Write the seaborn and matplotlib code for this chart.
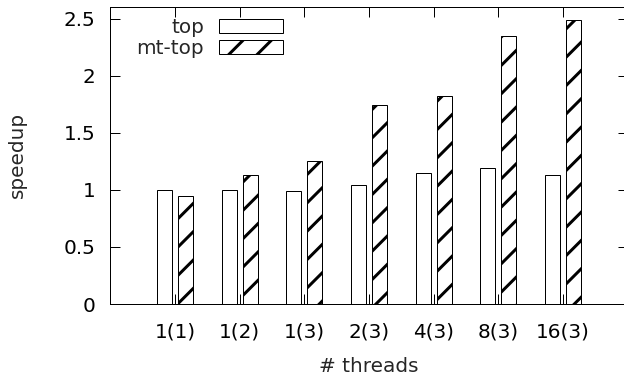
import matplotlib
matplotlib.use("Agg")
import matplotlib.pyplot as plt
from matplotlib.patches import Patch
import pandas as pd
import seaborn as sns

# Speedup per thread configuration
categories = ["1(1)", "1(2)", "1(3)", "2(3)", "4(3)", "8(3)", "16(3)"]
top_speedup = [1.00, 1.00, 0.99, 1.04, 1.15, 1.19, 1.13]
mt_top_speedup = [0.95, 1.13, 1.25, 1.74, 1.82, 2.35, 2.49]
series_names = ["top", "mt-top"]
y_ticks = [0, 0.5, 1, 1.5, 2, 2.5]
y_tick_labels = ["0", "0.5", "1", "1.5", "2", "2.5"]

DPI = 170
W, H = 624, 376


def px(v):
    """Convert pixels to points at the figure dpi."""
    return v * 72.0 / DPI


sns.set_theme(style="white")
plt.rcParams["font.family"] = ["DejaVu Sans"]
plt.rcParams["hatch.linewidth"] = px(3.0)
plt.rcParams["hatch.color"] = "black"

df = pd.DataFrame({
    "threads": categories * 2,
    "speedup": top_speedup + mt_top_speedup,
    "variant": [series_names[0]] * len(categories) + [series_names[1]] * len(categories),
})

fig = plt.figure(figsize=(W / DPI, H / DPI), dpi=DPI)
left, right, top, bottom = 110.3, 627.7, 7.3, 304.0
ax = fig.add_axes([left / W, 1 - bottom / H, (right - left) / W, (bottom - top) / H])

sns.barplot(
    data=df, x="threads", y="speedup", hue="variant",
    palette=["white", "white"], saturation=1,
    edgecolor="black", linewidth=px(1.0),
    width=0.65, gap=0.285, legend=False, ax=ax,
)

for bar in ax.containers[1]:
    bar.set_hatch("//")

fs = px(20)
tick_len = 10
ax.set_xlim(-1, 7)
ax.set_ylim(0, 2.6)
ax.set_yticks(y_ticks)
ax.set_yticklabels(y_tick_labels)
ax.tick_params(axis="both", direction="in", length=px(tick_len), width=px(1.0),
               colors="black", labelsize=fs)
ax.tick_params(axis="x", top=True, bottom=True, pad=px(18))
ax.tick_params(axis="y", left=True, right=False, pad=px(15))

# mirrored y ticks on the right border (the border itself sits at the figure edge)
ax.hlines(y_ticks, 1 - tick_len / (right - left), 1, transform=ax.get_yaxis_transform(),
          colors="black", linewidth=px(1.0), clip_on=False)

for side in ["left", "top", "bottom"]:
    ax.spines[side].set_color("black")
    ax.spines[side].set_linewidth(px(1.0))
ax.spines["right"].set_visible(False)

ax.set_xlabel("# threads", fontsize=fs, va="center")
ax.xaxis.set_label_coords(0.5, -(366 - bottom) / (bottom - top))
ax.set_ylabel("speedup", fontsize=fs, va="center")
ax.yaxis.set_label_coords((17 - left) / (right - left), (bottom - 155) / (bottom - top))

handles = [
    Patch(facecolor="white", edgecolor="black", linewidth=px(1.0), label=series_names[0]),
    Patch(facecolor="white", edgecolor="black", linewidth=px(1.0), hatch="//", label=series_names[1]),
]
ax.legend(
    handles=handles, loc="upper right", frameon=False, markerfirst=False,
    bbox_to_anchor=(283 / W, 1 - 18 / H), bbox_transform=fig.transFigure,
    fontsize=fs, handlelength=3.2, handleheight=0.65, handletextpad=0.75,
    labelspacing=0.1, borderpad=0, borderaxespad=0,
)

fig.savefig("out.png", dpi=DPI, facecolor="white")
